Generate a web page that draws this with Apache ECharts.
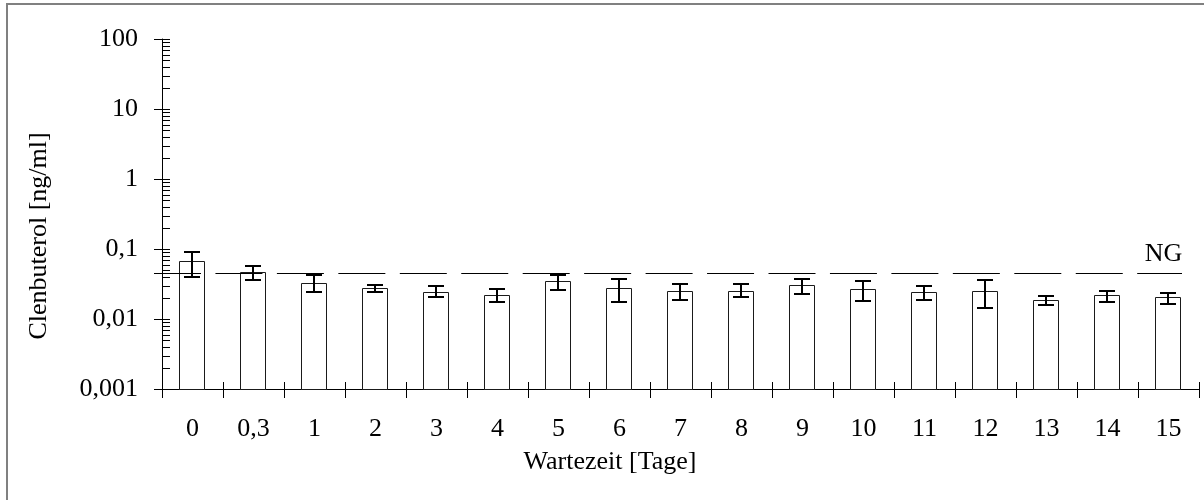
<!DOCTYPE html>
<html>
<head>
<meta charset="utf-8">
<script src="https://cdn.jsdelivr.net/npm/echarts@6/dist/echarts.min.js"></script>
<style>
  html, body { margin: 0; padding: 0; background: #fff; }
  #chart { width: 1204px; height: 500px; }
</style>
</head>
<body>
<div id="chart"></div>
<script>
// Clenbuterol concentration per waiting day (mean with error range), log scale
const categories = ['0', '0,3', '1', '2', '3', '4', '5', '6', '7', '8', '9', '10', '11', '12', '13', '14', '15'];
const means   = [0.067, 0.047, 0.033, 0.028, 0.024, 0.022, 0.035, 0.028, 0.025, 0.025, 0.031, 0.027, 0.024, 0.025, 0.0185, 0.022, 0.0206];
const errLow  = [0.040, 0.036, 0.024, 0.024, 0.0206, 0.0175, 0.026, 0.0175, 0.0185, 0.0204, 0.0228, 0.0183, 0.0185, 0.0144, 0.0158, 0.0175, 0.0165];
const errHigh = [0.0915, 0.0577, 0.0425, 0.0309, 0.0299, 0.0266, 0.0425, 0.0376, 0.0313, 0.0313, 0.0376, 0.0346, 0.0296, 0.0361, 0.0215, 0.0251, 0.0238];
const ngLevel = 0.046;          // detection limit (Nachweisgrenze)
const ngLabel = 'NG';
const yTickLabels = ['0,001', '0,01', '0,1', '1', '10', '100'];
const yMin = 0.001;
const yMax = 100;
const yTitle = 'Clenbuterol [ng/ml]';
const xTitle = 'Wartezeit [Tage]';

// minor tick positions of the log axis: 2..9 within every decade
const mantissas = [2, 3, 4, 5, 6, 7, 8, 9];
const decades = [0.001, 0.01, 0.1, 1, 10];
const minorTicks = [];
decades.forEach(d => mantissas.forEach(m => minorTicks.push(+(m * d).toPrecision(3))));

const FONT = 'Liberation Serif';
const INK = '#000';

const chart = echarts.init(document.getElementById('chart'), null, { renderer: 'canvas' });

const crisp = v => Math.round(v) + 0.5;

function bandWidth(api) { return api.size([1, 0])[0]; }

const baseX = {
  type: 'category',
  data: categories,
  boundaryGap: true,
  position: 'bottom',
  offset: 0,
  axisLine: { show: false, onZero: false },
  axisTick: { show: false },
  axisLabel: { show: false },
  splitLine: { show: false }
};

const baseY = {
  type: 'log',
  logBase: 10,
  min: yMin,
  max: yMax,
  position: 'left',
  offset: 0,
  axisLine: { show: false, onZero: false },
  axisTick: { show: false },
  axisLabel: { show: false },
  splitLine: { show: false },
  minorTick: { show: false },
  minorSplitLine: { show: false }
};

const option = {
  animation: false,
  backgroundColor: '#fff',
  grid: { left: 162, right: 5, top: 39, bottom: 111, containLabel: false, outerBoundsMode: 'none' },
  xAxis: [
    Object.assign({}, baseX, {
      axisLine: { show: true, onZero: false, lineStyle: { color: INK, width: 1 } },
      axisTick: { show: true, inside: false, length: 9, interval: 0, lineStyle: { color: INK, width: 1 } },
      axisLabel: { show: true, interval: 0, margin: 27, color: INK, fontFamily: FONT, fontSize: 26 }
    }),
    Object.assign({}, baseX, {
      axisTick: { show: true, inside: true, length: 7, interval: 0, lineStyle: { color: INK, width: 1 } }
    }),
    Object.assign({}, baseX, {
      axisTick: { show: true, inside: true, length: 6, interval: 0, alignWithLabel: true, lineStyle: { color: INK, width: 1 } }
    })
  ],
  yAxis: [
    Object.assign({}, baseY, {
      axisLine: { show: true, onZero: false, lineStyle: { color: INK, width: 1 } },
      axisTick: { show: true, inside: false, length: 8, lineStyle: { color: INK, width: 1 } },
      axisLabel: {
        show: true, margin: 24, color: INK, fontFamily: FONT, fontSize: 26,
        formatter: v => yTickLabels[Math.round(Math.log10(v) - Math.log10(yMin))]
      }
    }),
    Object.assign({}, baseY, {
      axisTick: { show: true, inside: true, length: 8, lineStyle: { color: INK, width: 1 } }
    })
  ],
  graphic: [
    {
      type: 'rect', silent: true, z: 0,
      shape: { x: 7, y: 4, width: 1210, height: 510 },
      style: { fill: 'none', stroke: '#808080', lineWidth: 2 }
    },
    {
      type: 'text', silent: true,
      x: 39, y: 236, rotation: Math.PI / 2,
      style: { text: yTitle, font: '26px "' + FONT + '"', fill: INK, align: 'center', verticalAlign: 'middle' }
    },
    {
      type: 'text', silent: true,
      x: 610, y: 462,
      style: { text: xTitle, font: '26px "' + FONT + '"', fill: INK, align: 'center', verticalAlign: 'middle' }
    }
  ],
  series: [
    {
      // minor ticks on the inner side of the log axis
      type: 'custom',
      name: 'minor ticks',
      xAxisIndex: 0, yAxisIndex: 0,
      clip: false, silent: true,
      data: minorTicks.map(v => [0, v]),
      encode: { x: 0, y: 1 },
      renderItem: function (params, api) {
        const p = api.coord([0, api.value(1)]);
        const x0 = p[0] - bandWidth(api) / 2;
        const y = crisp(p[1]);
        return {
          type: 'line',
          shape: { x1: x0, y1: y, x2: x0 + 8, y2: y },
          style: { stroke: INK, lineWidth: 1 }
        };
      }
    },
    {
      // bars drawn from the axis floor up to the mean
      type: 'custom',
      name: 'Clenbuterol',
      xAxisIndex: 0, yAxisIndex: 0,
      silent: true, z: 3,
      data: means.map((m, i) => [i, m]),
      encode: { x: 0, y: 1 },
      renderItem: function (params, api) {
        const top = api.coord([api.value(0), api.value(1)]);
        const base = api.coord([api.value(0), yMin]);
        const w = 25;
        const x = crisp(top[0] - w / 2 - 1);
        const y = crisp(top[1]);
        return {
          type: 'rect',
          shape: { x: x, y: y, width: w, height: Math.round(base[1]) - y + 0.5 },
          style: { fill: '#fff', stroke: '#1a1a1a', lineWidth: 1 }
        };
      }
    },
    {
      // NG line, dashed across the full axis
      type: 'custom',
      name: 'NG',
      xAxisIndex: 0, yAxisIndex: 0,
      clip: false, silent: true, z: 4,
      data: [[categories.length - 1, ngLevel]],
      encode: { x: 0, y: 1 },
      renderItem: function (params, api) {
        const bw = bandWidth(api);
        const last = api.coord([api.value(0), api.value(1)]);
        const first = api.coord([0, api.value(1)]);
        const y = crisp(last[1]);
        const x1 = first[0] - bw / 2 - 8;
        const x2 = last[0] + bw / 2 - 17;
        return {
          type: 'group',
          children: [
            {
              type: 'line',
              shape: { x1: x1, y1: y, x2: x2, y2: y },
              style: { stroke: INK, lineWidth: 1, lineDash: [47, 14.45] }
            },
            {
              type: 'text',
              x: last[0] - 5, y: y - 19,
              style: { text: ngLabel, font: '26px "' + FONT + '"', fill: INK, align: 'center', verticalAlign: 'middle' }
            }
          ]
        };
      }
    },
    {
      // error bars with caps
      type: 'custom',
      name: 'Fehler',
      xAxisIndex: 0, yAxisIndex: 0,
      silent: true, z: 5,
      data: means.map((m, i) => [i, errLow[i], errHigh[i]]),
      encode: { x: 0, y: [1, 2] },
      renderItem: function (params, api) {
        const lo = api.coord([api.value(0), api.value(1)]);
        const hi = api.coord([api.value(0), api.value(2)]);
        const x = Math.round(lo[0] - 1);
        const yl = Math.round(lo[1]);
        const yh = Math.round(hi[1]);
        const cap = 8;
        const st = { stroke: INK, lineWidth: 2 };
        return {
          type: 'group',
          children: [
            { type: 'line', shape: { x1: x, y1: yl, x2: x, y2: yh }, style: st },
            { type: 'line', shape: { x1: x - cap, y1: yl, x2: x + cap, y2: yl }, style: st },
            { type: 'line', shape: { x1: x - cap, y1: yh, x2: x + cap, y2: yh }, style: st }
          ]
        };
      }
    }
  ]
};

chart.setOption(option);
</script>
</body>
</html>
